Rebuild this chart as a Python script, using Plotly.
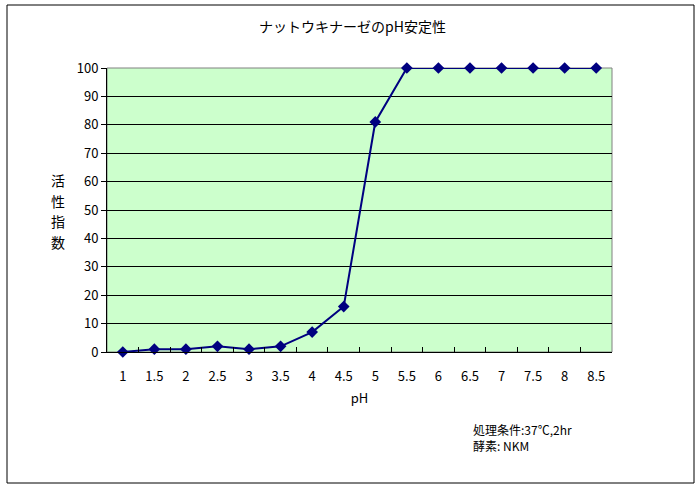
import plotly.graph_objects as go

ph_labels = ["1", "1.5", "2", "2.5", "3", "3.5", "4", "4.5", "5", "5.5", "6", "6.5", "7", "7.5", "8", "8.5"]
activity = [0, 1, 1, 2, 1, 2, 7, 16, 81, 100, 100, 100, 100, 100, 100, 100]
y_ticks = list(range(0, 101, 10))
y_title_chars = ["活", "性", "指", "数"]
note_lines = ["処理条件:37℃,2hr", "酵素: NKM"]

FONT = "MS PGothic, Noto Sans CJK JP, sans-serif"
PW, PH = 505, 284

fig = go.Figure()
fig.add_trace(go.Scatter(
    x=ph_labels, y=activity, mode="lines+markers",
    line=dict(color="#000080", width=2),
    marker=dict(symbol="diamond", size=9, color="#000080"),
    showlegend=False, cliponaxis=False,
))

annotations = [
    dict(text=ch, xref="paper", yref="paper", x=-49 / PW, y=(352 - yy) / PH,
         showarrow=False, xanchor="center", yanchor="middle", font=dict(size=14),
         borderpad=0)
    for ch, yy in zip(y_title_chars, [180, 200.5, 221, 241.5])
]
annotations += [
    dict(text=t, xref="paper", yref="paper", x=(472 - 107) / PW, y=-(yy - 352) / PH,
         showarrow=False, xanchor="left", yanchor="middle", font=dict(size=12),
         borderpad=0)
    for t, yy in zip(note_lines, [429, 445.5])
]

fig.update_layout(
    width=698, height=487,
    margin=dict(l=107, r=86, t=68, b=135),
    paper_bgcolor="white", plot_bgcolor="#CCFFCC",
    font=dict(family=FONT, size=12, color="black"),
    title=dict(text="ナットウキナーゼのpH安定性", x=0.505, xanchor="center",
               y=0.945, yanchor="middle", font=dict(size=14, family=FONT)),
    xaxis=dict(type="category", range=[-0.5, len(ph_labels) - 0.5], showgrid=False,
               showline=True, linecolor="black", linewidth=1, mirror=False,
               ticks="inside", tickson="boundaries", ticklen=5, tickcolor="black",
               ticklabelstandoff=12, tickfont=dict(size=13),
               title=dict(text="pH", font=dict(size=13), standoff=10)),
    yaxis=dict(range=[0, 100], tickvals=y_ticks, showgrid=True, gridcolor="black",
               gridwidth=1, showline=True, linecolor="black", linewidth=1,
               ticks="outside", ticklen=5, tickcolor="black", zeroline=False,
               tickfont=dict(size=13)),
    shapes=[
        dict(type="rect", xref="paper", yref="paper", x0=0, x1=1, y0=0, y1=1,
             line=dict(color="#808080", width=1), layer="below"),
        dict(type="rect", xref="paper", yref="paper",
             x0=-100 / PW, x1=1 + 82 / PW, y0=-131 / PH, y1=1 + 63 / PH,
             line=dict(color="black", width=1)),
    ],
    annotations=annotations,
)

fig.write_html("out.html", config={"displayModeBar": False},
               post_script="document.body.style.margin='0';")
